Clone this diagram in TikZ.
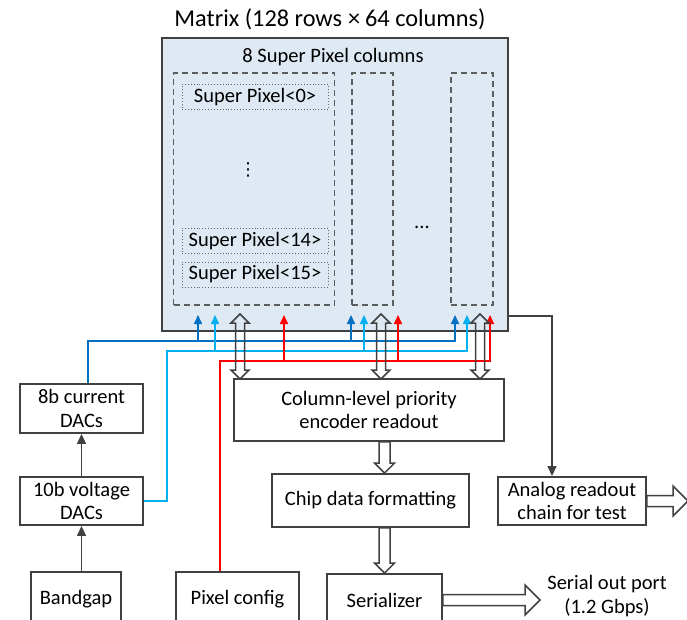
\documentclass[tikz,border=0pt]{standalone}
\usepackage{fontspec}
\setmainfont{Carlito}
\newfontfamily\symfont{DejaVu Sans}
\usetikzlibrary{arrows.meta,calc}

\definecolor{edge}{RGB}{64,64,64}
\definecolor{matfill}{RGB}{222,233,243}
\definecolor{dkblue}{RGB}{0,112,192}
\definecolor{ltblue}{RGB}{0,176,240}

\begin{document}
\begin{tikzpicture}[x=1pt,y=-1pt,>={Triangle[length=9pt,width=8pt]},
  font=\fontsize{20.5}{23.5}\selectfont,
  box/.style={draw=edge,line width=1.9pt,align=center,inner sep=0pt},
  colbox/.style={draw=edge!85,dashed,dash pattern=on 6pt off 4pt,line width=1.3pt,minimum height=232pt},
  spx/.style={draw=edge!80,dotted,line width=.9pt,minimum width=146pt,minimum height=25pt,inner sep=0pt},
  wire/.style={line width=1.6pt,->},
  graywire/.style={draw=edge,line width=1.4pt,-{Triangle[length=10pt,width=9pt]}},
  hollow/.style={draw=edge,line width=1.5pt,line join=miter},
  vdbl/.style={hollow,to path={let \p1=(\tikztostart),\p2=(\tikztotarget) in
    (\x1-4.5pt,\y1-9pt) -- (\x1-9pt,\y1-9pt) -- (\x1,\y1) -- (\x1+9pt,\y1-9pt) -- (\x1+4.5pt,\y1-9pt)
    -- (\x1+4.5pt,\y2+9pt) -- (\x1+9pt,\y2+9pt) -- (\x1,\y2) -- (\x1-9pt,\y2+9pt) -- (\x1-4.5pt,\y2+9pt) -- cycle}},
  vfat/.style={hollow,to path={let \p1=(\tikztostart),\p2=(\tikztotarget) in
    (\x1-5.5pt,\y1) -- (\x1+5.5pt,\y1) -- (\x1+5.5pt,\y2+10pt) -- (\x1+10pt,\y2+10pt) -- (\x1,\y2)
    -- (\x1-10pt,\y2+10pt) -- (\x1-5.5pt,\y2+10pt) -- cycle}},
  hfat/.style={hollow,to path={let \p1=(\tikztostart),\p2=(\tikztotarget) in
    (\x1,\y1+5.5pt) -- (\x2-15pt,\y1+5.5pt) -- (\x2-15pt,\y1+15pt) -- (\x2,\y1) -- (\x2-15pt,\y1-15pt)
    -- (\x2-15pt,\y1-5.5pt) -- (\x1,\y1-5.5pt) -- cycle}}]
\useasboundingbox (0,0) rectangle (687,620);
\clip (0,0) rectangle (687,620);

% pixel matrix
\node[box,fill=matfill,line width=2.5pt,minimum width=346pt,minimum height=293pt] (mat) at (335,184.5) {};
\node[font=\fontsize{24.3}{27}\selectfont] (title) at (330,19) {Matrix (128 rows\hspace{.25em}×\hspace{.2em}64 columns)};
\node (ncols) at (333,57) {8 Super Pixel columns};
\node[colbox,minimum width=161pt] (colA) at (254,189) {};
\node[colbox,minimum width=41pt] (colB) at (372.5,189) {};
\node[colbox,minimum width=42pt] (colH) at (472,189) {};
\node[spx] (sp0) at (255,97) {Super Pixel<0>};
\node[font=\symfont\fontsize{18}{20}\selectfont] (vd) at (248,170) {⋮};
\node[spx] (sp14) at (255,241) {Super Pixel<14>};
\node[spx] (sp15) at (255,274.5) {Super Pixel<15>};
\node (hd) at (422,227) {...};

% periphery
\node[box,minimum width=123pt,minimum height=49pt] (cur) at (81.5,408.5) {8b current\\DACs};
\node[box,minimum width=123pt,minimum height=48pt] (volt) at (81.5,501) {10b voltage\\DACs};
\node[box,minimum width=90pt,minimum height=54pt] (bg) at (76,599) {Bandgap};
\node[box,minimum width=123pt,minimum height=54pt] (pcfg) at (237.5,599) {Pixel config};
\node[box,minimum width=270pt,minimum height=62pt] (enc) at (369,410) {Column-level priority\\encoder readout};
\node[box,minimum width=197pt,minimum height=53pt] (fmt) at (370.5,500.5) {Chip data formatting};
\node[box,minimum width=115pt,minimum height=52pt] (ser) at (384.5,600) {Serializer};
\node[box,minimum width=148pt,minimum height=48pt] (ana) at (572,501) {Analog readout\\chain for test};
\node[align=center] (port) at (607,596) {Serial out port\\(1.2 Gbps)};

% bias and config buses
\coordinate (dbus) at (0,341);
\coordinate (cbus) at (0,351);
\coordinate (rbus) at (0,361);
\foreach \n/\px in {1/198,2/351,3/455} \coordinate (db\n) at (\px,315);
\foreach \n/\px in {1/215,2/364,3/467} \coordinate (lb\n) at (\px,315);
\foreach \n/\px in {1/284,2/398,3/490} \coordinate (rd\n) at (\px,315);
\draw[wire,dkblue] ([xshift=6.5]cur.north) |- (db3 |- dbus) -- (db3);
\draw[wire,dkblue] (db1 |- dbus) -- (db1);
\draw[wire,dkblue] (db2 |- dbus) -- (db2);
\draw[wire,ltblue] (volt.east) -- ++(23,0) |- (lb3 |- cbus) -- (lb3);
\draw[wire,ltblue] (lb1 |- cbus) -- (lb1);
\draw[wire,ltblue] (lb2 |- cbus) -- (lb2);
\draw[wire,red] ([xshift=-17.5]pcfg.north) |- (rd3 |- rbus) -- (rd3);
\draw[wire,red] (rd1 |- rbus) -- (rd1);
\draw[wire,red] (rd2 |- rbus) -- (rd2);

% data path
\foreach \n/\px in {1/240,2/381,3/480} {
  \coordinate (io\n) at (\px,314);
  \coordinate (ie\n) at (\px,379);
}
\draw[vdbl] (io1) to (ie1);
\draw[vdbl] (io2) to (ie2);
\draw[vdbl] (io3) to (ie3);
\coordinate (e1) at (enc.south -| ser.north);
\coordinate (f1) at (fmt.north -| ser.north);
\coordinate (f2) at (fmt.south -| ser.north);
\draw[vfat] (e1) to (f1);
\draw[vfat] (f2) to (ser.north);
\coordinate (sout) at (540,600);
\draw[hfat] (ser.east) to (sout);
\coordinate (aout) at (688,501);
\draw[hfat] (ana.east) to (aout);

% analog test line and DAC chain
\coordinate (g0) at (508,316);
\draw[graywire] (g0) -| ([xshift=-20]ana.north);
\draw[graywire] (volt.north) -- (cur.south);
\draw[graywire] (bg.north -| volt.south) -- (volt.south);
\end{tikzpicture}
\end{document}
